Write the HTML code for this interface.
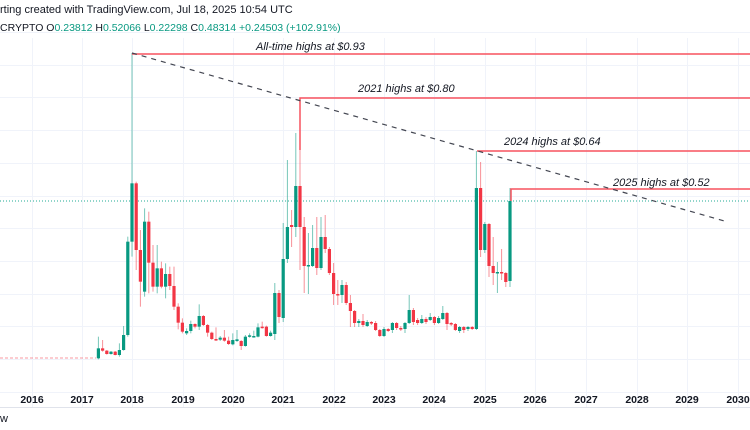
<!DOCTYPE html>
<html><head><meta charset="utf-8"><style>
html,body{margin:0;padding:0;background:#fff;width:750px;height:430px;overflow:hidden}
svg{display:block;font-family:"Liberation Sans",sans-serif}
</style></head><body>
<svg id="s" width="750" height="430" xmlns="http://www.w3.org/2000/svg">
<g id="grid" stroke="#f0f3fa" stroke-width="1"></g>
<line x1="0" y1="407.5" x2="750" y2="407.5" stroke="#e0e3eb"/>
<g font-size="10.5" fill="#131722" font-weight="bold" text-anchor="middle">
<text x="32" y="403">2016</text><text x="82" y="403">2017</text><text x="132" y="403">2018</text><text x="183" y="403">2019</text><text x="233" y="403">2020</text><text x="283" y="403">2021</text><text x="334" y="403">2022</text><text x="384" y="403">2023</text><text x="434" y="403">2024</text><text x="485" y="403">2025</text><text x="535" y="403">2026</text><text x="586" y="403">2027</text><text x="637" y="403">2028</text><text x="687" y="403">2029</text><text x="738" y="403">2030</text>
</g>
<text x="0" y="13" font-size="11" fill="#131722">rting created with TradingView.com, Jul 18, 2025 10:54 UTC</text>
<text x="0" y="31" font-size="10.5" fill="#131722">CRYPTO  O<tspan fill="#089981">0.23812</tspan>  H<tspan fill="#089981">0.52066</tspan>  L<tspan fill="#089981">0.22298</tspan>  C<tspan fill="#089981">0.48314</tspan>  <tspan fill="#089981">+0.24503 (+102.91%)</tspan></text>
<text x="0" y="422" font-size="11" fill="#131722">w</text>
<line x1="0" y1="201" x2="750" y2="201" stroke="#22ab94" stroke-width="1" stroke-dasharray="1,2"/>
<line x1="0" y1="358" x2="96" y2="358" stroke="#f23645" stroke-dasharray="3,2" opacity="0.5"/>
<g id="c"></g>
<g stroke="#f7525f" stroke-width="1.5" fill="none">
<path d="M132 54H750"/><path d="M300 150V98H750"/><path d="M477 151H750"/><path d="M511 201V189H750"/>
</g>
<line x1="132" y1="53" x2="728" y2="222" stroke="#434651" stroke-width="1.2" stroke-dasharray="5,5"/>
<g font-size="11" font-style="italic" fill="#131722">
<text x="256" y="50">All-time highs at $0.93</text>
<text x="358" y="92">2021 highs at $0.80</text>
<text x="504" y="145">2024 highs at $0.64</text>
<text x="613" y="186">2025 highs at $0.52</text>
</g>
</svg>
<script>
var NS="http://www.w3.org/2000/svg",g=document.getElementById('grid'),c=document.getElementById('c');
function el(p,n,a){var e=document.createElementNS(NS,n);for(var k in a)e.setAttribute(k,a[k]);p.appendChild(e);return e;}
[32,82,132,183,233,283,334,384,434,485,535,586,637,687,738].forEach(function(x){el(g,'line',{x1:x+.5,y1:38,x2:x+.5,y2:407});});
for(var y=32;y<400;y+=32.7){el(g,'line',{x1:0,y1:Math.round(y)+.5,x2:750,y2:Math.round(y)+.5});}
function z(v){return 40+v/3;}
var A=[[-8,955,925,890,958],[-7,925,932,900,935],[-6,932,942,930,944],[-5,942,935,933,944],[-4,935,945,933,946],[-3,945,930,910,950],[-2,930,885,858,932],[-1,885,605,590,890],[0,605,430,40,650],[1,430,630,425,690],[2,630,725,570,800],[3,755,545,505,770],[4,545,668,515,760],[5,668,740,615,755],[6,740,685,615,760],[7,685,740,665,745],[8,740,702,670,775],[9,702,738,680,750],[10,738,800,680,810],[11,800,848,790,868],[12,848,875,835,880],[13,880,873,865,885],[14,873,852,842,880],[15,852,860,850,865],[16,860,828,793,870],[17,828,855,825,858],[18,855,878,852,890],[19,878,897,875,900],[20,897,900,862,903],[21,899,893,888,903],[22,893,902,870,905],[23,902,912,890,915],[24,913,900,880,916],[25,903,898,870,906],[26,903,918,900,930],[27,918,890,885,920],[28,890,886,880,893],[29,890,888,872,893],[30,890,862,850,892],[31,860,863,845,866],[32,860,888,857,890],[33,888,878,872,890]];
var D=A.map(function(r){return [r[0],z(r[1]),z(r[2]),z(r[3]),z(r[4])];});
D=D.concat([[34,334,293,283,340],[35,293,317,290,323],[36,318,259,223,322],[37,259,227,160,263],[38,225,227,210,247],[39,227,186,133,237],[40,186,227,98,270],[41,227,266,217,293],[42,266,265,233,294],[43,266,248,225,267],[44,248,268,217,275],[45,268,237,217,270],[46,237,249,215,253],[47,249,273,247,275],[48,273,294,263,305],[49,294,295,280,305],[50,295,285,280,303],[51,285,303,282,305],[52,303,311,295,327],[53,311,323,310,327],[54,323,321,319,327],[55,321,325,314,327],[56,326,322,320,327],[57,322,323,321,325],[58,323,330,321,331],[59,330,336,329,337],[60,336,329,327,337],[61,329,331,328,332],[62,330,323,322,333],[63,323,328,322,330],[64,328,329,326,331],[65,329,323,322,333],[66,323,310,295,324],[67,310,322,308,325],[68,320,323,318,325],[69,323,319,315,324],[70,319,322,317,324],[71,320,317,313,321],[72,317,323,316,325],[73,323,318,316,324],[74,319,313,306,320],[75,313,324,312,330],[76,323,324,322,326],[77,324,330,323,331],[78,331,327,326,333],[79,327,330,326,333],[80,329,327,326,331],[81,327,329,326,330],[82,329,188,151,330],[83,188,250,162,257],[84,250,224,222,253],[85,224,266,223,277],[86,266,273,237,285],[87,273,272,262,293],[88,272,273,249,280],[89,273,282,272,287],[90,281,201,188,287]]);
D.forEach(function(r){
  var x=132+r[0]*4.2,o=r[1],cl=r[2],h=r[3],l=r[4],up=cl<=o,col=up?'#089981':'#f23645';
  if(r[0]==0)h=53;
  el(c,'line',{x1:x,y1:h,x2:x,y2:l,stroke:col,'stroke-width':1,opacity:0.55});
  var t=Math.min(o,cl),hh=Math.max(1.5,Math.abs(o-cl));
  el(c,'rect',{x:x-1.6,y:t,width:3.2,height:hh,fill:col});
});
</script>
</body></html>
